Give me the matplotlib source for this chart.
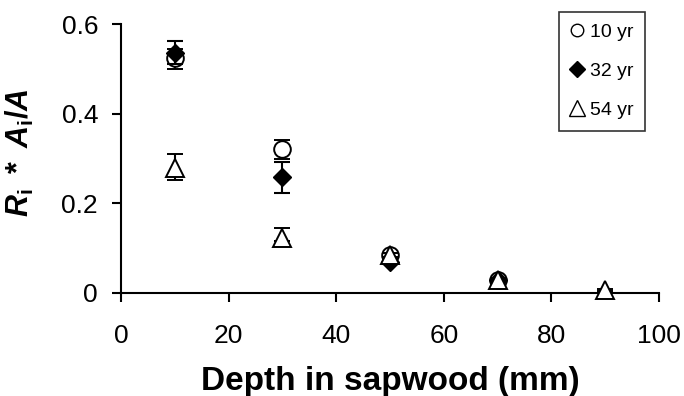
import matplotlib.pyplot as plt
from matplotlib.lines import Line2D

plt.rcParams['font.family'] = ['Liberation Sans', 'DejaVu Sans']
plt.rcParams['mathtext.fontset'] = 'custom'
plt.rcParams['mathtext.rm'] = 'Liberation Sans:bold'
plt.rcParams['mathtext.it'] = 'Liberation Sans:italic:bold'
plt.rcParams['mathtext.bf'] = 'Liberation Sans:bold'

depth = [10, 30, 50, 70, 90]
labels = ['10 yr', '32 yr', '54 yr']

# 10 yr
y10 = [0.524, 0.321, 0.085, 0.030]
lo10 = [0.500, 0.299, 0.080, 0.027]
hi10 = [0.545, 0.341, 0.090, 0.033]

# 32 yr
y32 = [0.535, 0.259, 0.070, 0.028]
lo32 = [0.510, 0.223, 0.065, 0.025]
hi32 = [0.562, 0.292, 0.075, 0.031]

# 54 yr
y54 = [0.279, 0.123, 0.085, 0.030, 0.007]
lo54 = [0.252, 0.115, 0.080, 0.026, 0.004]
hi54 = [0.310, 0.145, 0.090, 0.034, 0.010]

fig = plt.figure(figsize=(6.84, 3.96), dpi=100)
ax = fig.add_axes([121 / 684, 1 - 293 / 396, 538 / 684, 269 / 396])


def err(y, lo, hi):
    return [[a - b for a, b in zip(y, lo)], [c - a for a, c in zip(y, hi)]]


kw = dict(color='black', capsize=6, elinewidth=1.5, capthick=1.5, clip_on=False)
ax.errorbar(depth[:4], y32, yerr=err(y32, lo32, hi32), fmt='D', mfc='black',
            ms=9, zorder=3, **kw)
ax.errorbar(depth[:4], y10, yerr=err(y10, lo10, hi10), fmt='o', mfc='white',
            ms=12, mew=1.4, zorder=2, **kw)
ax.errorbar(depth, y54, yerr=err(y54, lo54, hi54), fmt='^', mfc='white',
            ms=13, mew=1.4, zorder=4, **kw)

ax.set_xlim(0, 100)
ax.set_ylim(0, 0.6)
ax.set_xticks([0, 20, 40, 60, 80, 100])
ax.set_yticks([0, 0.2, 0.4, 0.6])
ax.set_yticklabels(['0', '0.2', '0.4', '0.6'])
ax.tick_params(labelsize=19, width=1.5, length=6.5, direction='out')
ax.tick_params(axis='x', pad=16)
ax.tick_params(axis='y', pad=10)
for s in ['top', 'right']:
    ax.spines[s].set_visible(False)
for s in ['left', 'bottom']:
    ax.spines[s].set_linewidth(1.5)

ax.set_xlabel('Depth in sapwood (mm)', fontsize=24, fontweight='bold', labelpad=13)
ax.set_ylabel(r'$R_\mathrm{i}\ *\ A_\mathrm{i}\mathrm{/}A$', fontsize=22)
ax.yaxis.set_label_coords(-(121 - 36) / 538, 0.522)

handles = [Line2D([], [], ls='', marker='o', mfc='white', mec='black', ms=9),
           Line2D([], [], ls='', marker='D', mfc='black', mec='black', ms=8),
           Line2D([], [], ls='', marker='^', mfc='white', mec='black', ms=11)]
leg = ax.legend(handles, labels, loc='upper right',
                bbox_to_anchor=(645 / 684, 1 - 12 / 396), bbox_transform=fig.transFigure,
                fontsize=14, frameon=True, fancybox=False, edgecolor='black',
                handlelength=0.7, handletextpad=0.3, labelspacing=1.1, borderpad=0.6,
                borderaxespad=0)
leg.get_frame().set_linewidth(1.2)

fig.savefig('out.png', dpi=100)
